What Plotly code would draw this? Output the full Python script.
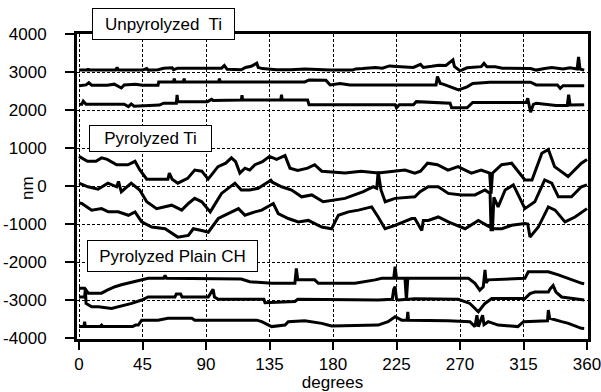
import plotly.graph_objects as go

# ---------------- data (degrees, nm) ----------------
u1_deg = [0, 6, 6.5, 7, 26, 27, 28, 45, 48, 49, 56, 60, 66, 67, 70, 101, 103, 105, 115, 118, 122, 126, 127, 130, 140, 150, 160, 178, 194, 196, 201, 210, 215, 220, 228, 237, 242, 244, 250, 255, 260, 265, 266, 270, 275, 285, 287, 289, 295, 300, 320, 324, 330, 335, 343, 348, 353, 354, 355, 357, 358]
u1_nm = [3050, 3050, 3090, 3050, 3050, 3120, 3050, 3050, 3090, 3050, 3060, 3100, 3110, 3060, 3100, 3100, 3170, 3070, 3060, 3120, 3150, 3230, 3120, 3090, 3060, 3060, 3080, 3050, 3050, 3080, 3090, 3120, 3100, 3160, 3140, 3120, 3200, 3120, 3150, 3180, 3170, 3320, 3150, 3030, 3110, 3140, 3230, 3140, 3140, 3100, 3090, 3050, 3090, 3120, 3080, 3110, 3080, 3400, 3080, 3050, 3050]

u2_deg = [0, 5, 7, 9, 20, 25, 30, 32, 40, 45, 56, 56.5, 67, 67.5, 68, 74, 74.5, 75, 99, 99.5, 100, 160, 163, 175, 178, 185, 192, 253, 254, 256, 258, 263, 269, 275, 279, 291, 320, 324, 339, 341, 343, 358]
u2_nm = [2640, 2660, 2720, 2650, 2650, 2680, 2580, 2660, 2680, 2650, 2650, 2740, 2740, 2830, 2740, 2740, 2830, 2740, 2740, 2830, 2740, 2740, 2790, 2780, 2660, 2700, 2660, 2660, 2880, 2700, 2680, 2610, 2530, 2610, 2700, 2730, 2730, 2660, 2660, 2570, 2640, 2640]

u3_deg = [0, 2, 3, 5, 32, 35, 37, 39, 57, 60, 69, 69.5, 70, 91, 94, 95, 115, 115.5, 116, 143, 143.5, 144, 162, 163, 224, 225, 227, 237, 239, 263, 264, 275, 279, 317, 318, 320, 322, 324, 338, 346, 347, 348, 358]
u3_nm = [2150, 2150, 2230, 2150, 2150, 2090, 2160, 2100, 2130, 2180, 2180, 2400, 2220, 2220, 2280, 2250, 2260, 2390, 2260, 2260, 2400, 2260, 2260, 2140, 2140, 2060, 2140, 2140, 2220, 2180, 2060, 2060, 2200, 2200, 2310, 1940, 2150, 2180, 2120, 2120, 2400, 2130, 2140]

p1_deg = [0, 6, 12, 16, 20, 26.7, 34.7, 39.7, 43, 48, 63, 64, 66, 70, 77, 82, 87, 91.5, 98.5, 104, 108, 111, 114, 117.6, 121, 124.7, 130, 135, 140, 146, 149.5, 155, 162, 167, 172, 188.5, 200, 212, 231, 238, 242, 247, 254, 261.5, 268.6, 278, 285, 291, 292, 293, 299.5, 306.6, 316, 321, 328, 332.6, 337, 346.6, 356, 360]
p1_nm = [780, 650, 650, 740, 700, 560, 560, 650, 430, 180, 180, 340, 180, 75, 200, 420, 390, 180, 510, 600, 740, 640, 340, 470, 420, 560, 640, 780, 700, 800, 470, 410, 470, 560, 390, 340, 390, 340, 420, 340, 390, 600, 560, 420, 510, 340, 420, 340, -200, 340, 560, 600, 160, 160, 860, 960, 510, 250, 600, 700]

p2_deg = [0, 6.4, 13.5, 20.5, 26.7, 28, 29, 30, 37, 43, 48, 55, 65.7, 72.8, 77.5, 82, 87, 93, 101, 110.5, 115, 121, 127, 135.4, 136, 137, 143.6, 150.7, 157.8, 165, 173, 188.5, 201.5, 208.6, 211, 212, 214, 217, 224, 238, 241.7, 247.5, 254.6, 261.7, 271, 280.6, 287.7, 291.3, 292, 293, 294, 297, 302, 307.8, 316, 323, 330, 335, 339.7, 349, 356, 360]
p2_nm = [75, -20, -85, 75, -20, 120, -20, -150, 75, -105, -415, -595, -505, -635, -460, -325, -415, -680, -195, 75, -105, -105, -60, 115, 150, 100, -20, -105, -285, -235, -415, -325, -150, -20, -60, 380, -105, -415, -325, -285, -150, -20, -20, -195, -235, -235, -105, -195, -1150, -1150, -300, -550, -105, 30, -595, -415, 160, 75, -285, -285, -20, 30]

p3_deg = [0, 2, 9, 16, 20.8, 27.8, 35, 39.7, 44.4, 51.5, 61, 70, 77.5, 81, 87, 91.6, 98.7, 108, 113, 117.6, 121, 124.7, 129.5, 137.7, 141.2, 148.3, 155.4, 162.5, 172, 179, 183.8, 190.9, 198, 207.4, 212, 216.9, 224, 235.8, 238, 241, 242.9, 244, 247.5, 254.6, 261.7, 273.6, 283, 289, 293.6, 299.6, 306.6, 316, 318, 319.6, 325.5, 332.6, 337.4, 344.4, 351.5, 360]
p3_nm = [-450, -460, -635, -595, -680, -680, -770, -680, -945, -1080, -1125, -1345, -1300, -1125, -1170, -1215, -855, -680, -595, -770, -725, -680, -635, -460, -725, -855, -945, -905, -1080, -1125, -770, -680, -635, -550, -815, -1125, -1035, -855, -855, -1035, -1170, -905, -905, -815, -945, -1125, -905, -1035, -1125, -1125, -1035, -990, -1000, -1345, -1080, -550, -635, -945, -815, -595]

c1_deg = [0, 4, 6.6, 16, 20, 25.5, 30, 35, 40, 44.4, 49, 60, 61, 62, 115, 121, 136.6, 153, 154, 155, 167, 169.6, 195.6, 209.8, 214.5, 223, 224, 225, 231, 232, 233, 276, 280.6, 284, 286.5, 287.7, 288.5, 290, 316, 318.4, 332.6, 339.7, 349, 356.3, 358]
c1_nm = [-2690, -2690, -2820, -2820, -2740, -2650, -2600, -2560, -2520, -2470, -2430, -2430, -2350, -2430, -2450, -2520, -2560, -2560, -2170, -2470, -2470, -2560, -2560, -2470, -2430, -2430, -2120, -2430, -2430, -3000, -2430, -2430, -2560, -2740, -2650, -2210, -2550, -2470, -2430, -2255, -2255, -2340, -2470, -2560, -2570]

c2_deg = [0, 4, 4.5, 5, 9, 13.7, 23, 27.8, 37.3, 44.4, 49, 68, 69, 72, 73, 91.6, 95, 96, 98.7, 131, 131.8, 153, 155, 212, 222, 223, 224, 225, 226.3, 238, 268.8, 277, 283, 287.7, 292.5, 316, 319.6, 323, 332.6, 334, 336, 338, 342, 358]
c2_nm = [-2920, -2920, -2700, -3090, -3180, -3180, -3220, -3180, -3090, -3000, -2920, -2920, -2840, -2840, -2920, -2920, -2720, -2920, -2980, -2980, -3070, -3040, -2980, -3000, -2980, -2720, -2650, -2980, -3000, -2970, -2980, -3090, -3310, -3090, -2960, -2960, -2830, -2790, -2790, -2700, -2620, -2790, -2920, -3000]

c3_deg = [0, 3.5, 4, 4.5, 15, 16, 17, 38, 40, 42, 44.4, 56, 63, 80, 82, 126, 129.5, 136.5, 146, 148.3, 160, 172, 179, 212, 219, 224, 228.7, 232.5, 233, 233.5, 261.5, 277, 280.6, 282, 283, 286, 287, 290, 297, 311, 315, 328, 332, 332.6, 333.5, 342, 346.8, 356, 358]
c3_nm = [-3700, -3700, -3570, -3700, -3700, -3660, -3700, -3700, -3660, -3660, -3530, -3530, -3480, -3480, -3530, -3530, -3570, -3700, -3660, -3570, -3545, -3615, -3685, -3660, -3570, -3440, -3530, -3530, -3310, -3530, -3545, -3570, -3700, -3400, -3700, -3400, -3650, -3570, -3660, -3700, -3570, -3545, -3545, -3265, -3480, -3570, -3615, -3745, -3750]

x_ticks = [0, 45, 90, 135, 180, 225, 270, 315, 360]
y_ticks = [4000, 3000, 2000, 1000, 0, -1000, -2000, -3000, -4000]
y_tick_text = ["4000", "3000", "2000", "1000", "0", "-1000", "-2000", "-3000", "-4000"]
group_labels = ["Unpyrolyzed  Ti", "Pyrolyzed Ti", "Pyrolyzed Plain CH"]

# ---------------- figure ----------------
FONT = "Arial, 'Liberation Sans', sans-serif"
W, H = 601, 392
ML, MR, MT, MB = 77, 13, 34, 53
fig = go.Figure()
series = [(u1_deg, u1_nm), (u2_deg, u2_nm), (u3_deg, u3_nm),
          (p1_deg, p1_nm), (p2_deg, p2_nm), (p3_deg, p3_nm),
          (c1_deg, c1_nm), (c2_deg, c2_nm), (c3_deg, c3_nm)]
for xs, ys in series:
    fig.add_trace(go.Scatter(x=xs, y=ys, mode="lines",
                             line=dict(color="black", width=3),
                             showlegend=False, hoverinfo="skip"))


def px_to_paper(px, py):
    return (px - ML) / (W - ML - MR), (H - MB - py) / (H - MT - MB)


boxes = [  # (centre px x, centre px y, width, height)
    (163.5, 24, 141, 30),
    (150.5, 138.5, 121, 25),
    (172.5, 256, 169, 30),
]
for label, (cx, cy, bw, bh) in zip(group_labels, boxes):
    bx, by = px_to_paper(cx, cy)
    fig.add_annotation(text=label, xref="paper", yref="paper", x=bx, y=by,
                       xanchor="center", yanchor="middle", showarrow=False,
                       width=bw, height=bh, bgcolor="white",
                       bordercolor="black", borderwidth=1, borderpad=0,
                       font=dict(family=FONT, size=17, color="black"))

# y-axis title placed as rotated text
tx, ty = px_to_paper(28, 188)
fig.add_annotation(text="nm", xref="paper", yref="paper", x=tx, y=ty,
                   xanchor="center", yanchor="middle", showarrow=False,
                   textangle=-90, font=dict(family=FONT, size=17, color="black"))

axis_common = dict(showline=True, linecolor="black", linewidth=3, mirror=True,
                   ticks="outside", tickcolor="black", tickwidth=2,
                   showgrid=True, gridcolor="black", gridwidth=1,
                   griddash="3px,2px", zeroline=False, automargin=False,
                   ticklabeloverflow="allow",
                   tickfont=dict(family=FONT, size=17, color="black"))

fig.update_xaxes(range=[-1.42, 360.7], tickvals=x_ticks, ticklen=8,
                 title=dict(text="degrees", standoff=2,
                            font=dict(family=FONT, size=17, color="black")),
                 **axis_common)
fig.update_yaxes(range=[-4026, 4000], tickvals=y_ticks, ticktext=y_tick_text,
                 ticklen=9, ticklabelstandoff=15, **axis_common)

fig.update_layout(width=W, height=H,
                  margin=dict(l=ML, r=MR, t=MT, b=MB),
                  paper_bgcolor="white", plot_bgcolor="white",
                  font=dict(family=FONT, size=17, color="black"))

fig.write_html("out.html",
               config={"displayModeBar": False},
               post_script="document.body.style.margin='0';"
                           "document.body.style.padding='0';"
                           "document.body.style.overflow='hidden';")
